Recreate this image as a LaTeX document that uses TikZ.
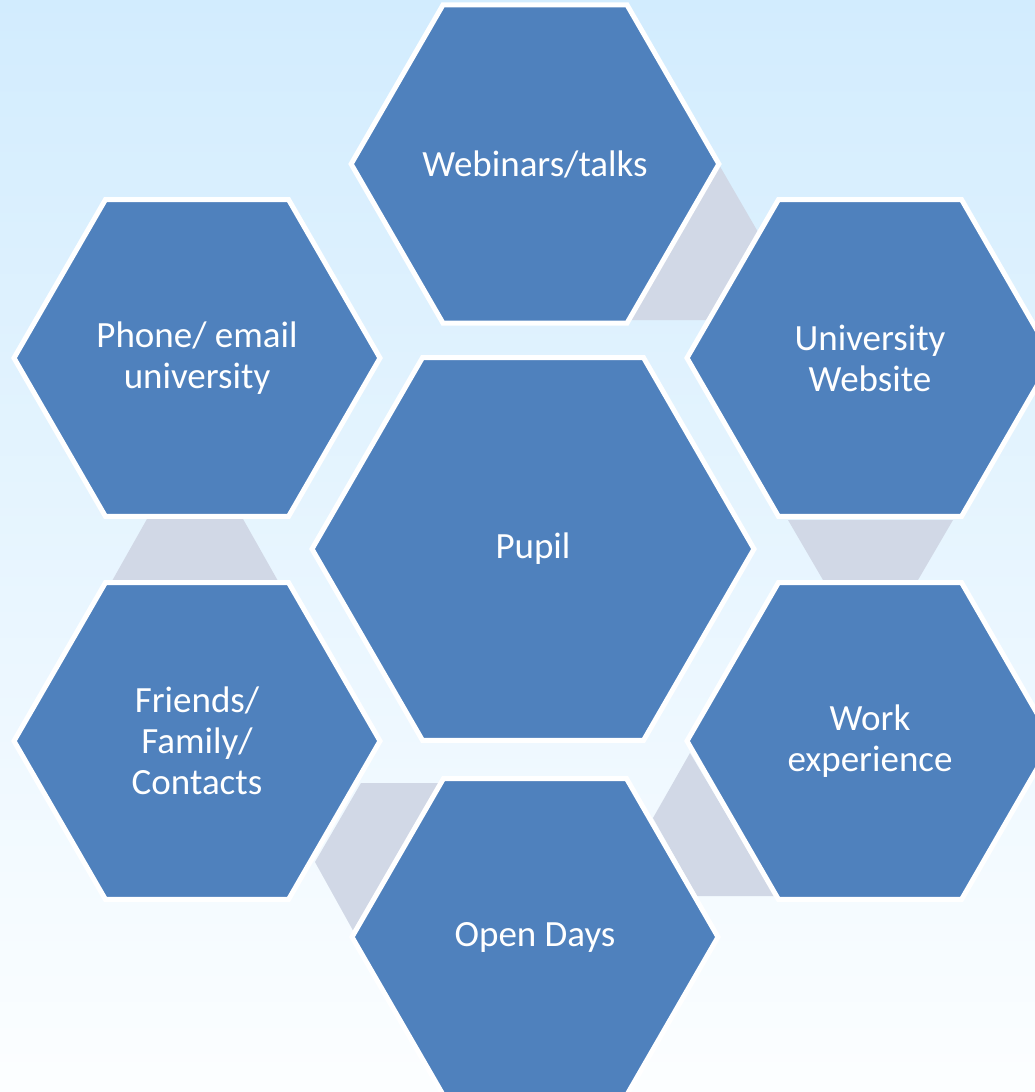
\documentclass[tikz,border=0pt]{standalone}
\usepackage{fontspec}
\setmainfont{Carlito}
\usetikzlibrary{shapes.geometric}
\definecolor{hexblue}{HTML}{4F81BD}
\definecolor{linkgrey}{HTML}{D1D8E6}
\definecolor{bgtop}{HTML}{D2ECFE}
\definecolor{bgbot}{HTML}{FCFEFF}
\begin{document}
\begin{tikzpicture}[x=1pt,y=-1pt,
  hexa/.style={regular polygon, regular polygon sides=6, fill=hexblue, draw=white,
    line width=5pt, inner sep=0pt, text=white, align=center,
    font=\fontsize{37}{41}\selectfont},
  smallhex/.style={hexa, minimum size=366pt},
  bighex/.style={hexa, minimum size=442pt},
  link/.style={fill=linkgrey, draw=none}]
\useasboundingbox (0,0) rectangle (1035,1092);
\clip (0,0) rectangle (1035,1092);
\shade[top color=bgtop, bottom color=bgbot] (0,0) rectangle (1035,1092);
% grey links
\fill[link] (718,163) -- (627,320) -- (809,320) -- cycle;
\fill[link] (147,519) -- (243,519) -- (278,581) -- (112,581) -- cycle;
\fill[link] (788,520) -- (953,520) -- (918,580) -- (823,580) -- cycle;
\fill[link] (315,862) -- (361,783) -- (450,783) -- (355,934) -- cycle;
\fill[link] (690,753) -- (653,818) -- (697,896) -- (775,896) -- cycle;
% hexagons
\node[bighex]   (pupil) at (533,549) {Pupil};
\node[smallhex] (web)   at (535,164) {Webinars/talks};
\node[smallhex] (phone) at (197,358) {Phone/ email\\university};
\node[smallhex] (uni)   at (870,358) {University\\Website};
\node[smallhex] (fam)   at (197,741) {Friends/\\Family/\\Contacts};
\node[smallhex] (work)  at (870,741) {Work\\experience};
\node[smallhex] (open)  at (535,937) {Open Days};
\end{tikzpicture}
\end{document}
